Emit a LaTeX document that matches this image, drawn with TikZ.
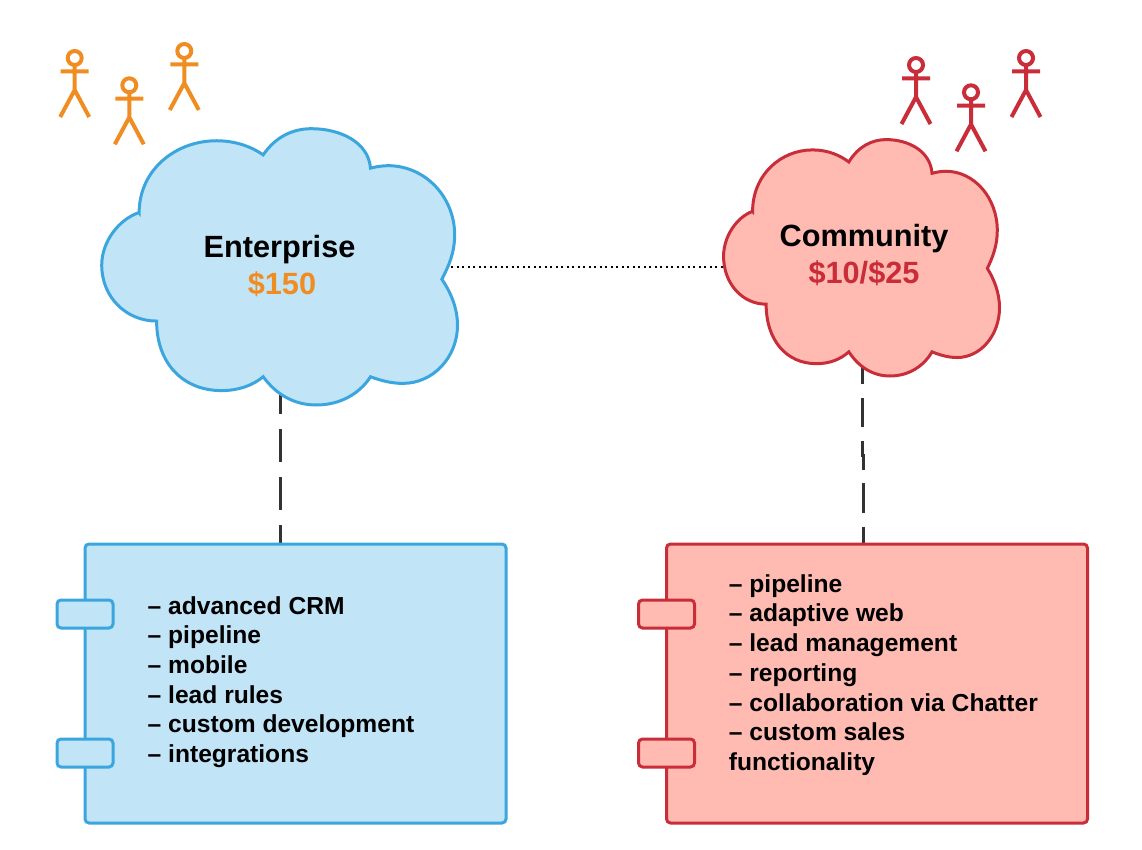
\documentclass[tikz,border=0pt]{standalone}
\usepackage{fontspec}
\setmainfont{Liberation Sans}
\usetikzlibrary{backgrounds}
\definecolor{SkyFill}{HTML}{C1E4F7}
\definecolor{SkyLine}{HTML}{3AA6DD}
\definecolor{RoseFill}{HTML}{FFBBB1}
\definecolor{RoseLine}{HTML}{C92D39}
\definecolor{Amber}{HTML}{EF8D22}
\definecolor{LineDark}{HTML}{333333}
% outline of a cloud in a unit box, y pointing down
\newcommand{\cloudoutline}{(.107,.306) .. controls (.107,.150) and (.210,.046) .. (.324,.046)
  .. controls (.38,.046) and (.425,.07) .. (.455,.097)
  .. controls (.49,.03) and (.54,.0025) .. (.590,.0025)
  .. controls (.67,.0025) and (.75,.05) .. (.756,.145)
  .. controls (.77,.14) and (.79,.136) .. (.805,.136)
  .. controls (.91,.136) and (.992,.25) .. (.992,.386)
  .. controls (.992,.45) and (.975,.50) .. (.956,.546)
  .. controls (.98,.59) and (1,.65) .. (1,.711)
  .. controls (1,.83) and (.93,.922) .. (.847,.922)
  .. controls (.815,.922) and (.785,.912) .. (.756,.898)
  .. controls (.725,.96) and (.67,1) .. (.604,1)
  .. controls (.54,1) and (.49,.96) .. (.455,.898)
  .. controls (.425,.93) and (.385,.948) .. (.338,.948)
  .. controls (.23,.948) and (.156,.85) .. (.156,.697)
  .. controls (.07,.697) and (.002,.61) .. (.002,.495)
  .. controls (.002,.41) and (.05,.33) .. cycle}
\begin{document}
\begin{tikzpicture}[
    x=1pt, y=-1pt,
    title/.style={align=center, inner sep=0pt, font=\fontsize{30.7}{37.5}\selectfont\bfseries},
    comp/.style={rounded corners=4pt, line width=3pt, minimum width=421pt, minimum height=279pt},
    port/.style={rounded corners=4pt, line width=3pt, minimum width=56pt, minimum height=28pt},
    items/.style={align=left, inner sep=0pt, anchor=west, font=\fontsize{24.6}{29.7}\selectfont\bfseries},
    sky/.style={draw=SkyLine, fill=SkyFill},
    rose/.style={draw=RoseLine, fill=RoseFill},
    dep/.style={draw=LineDark, line width=3pt},
    link/.style={draw=black, line width=2pt, dash pattern=on 2pt off 3.5pt},
    actor/.pic={
      \draw (0,-7) circle (7);
      \draw (0,0) -- (0,25) (-14,6.3) -- (14,6.3) (-14.5,52) -- (0,25) -- (14.5,52);
    }
]
\useasboundingbox (0,0) rectangle (1142,850);

% clouds
\draw[sky, line width=3pt, shift={(101,128)}, xscale=356.5, yscale=277] \cloudoutline;
\draw[rose, line width=3pt, shift={(723,139)}, xscale=276.5, yscale=237] \cloudoutline;
\node[minimum width=357pt, minimum height=277pt, inner sep=0pt] (enterprise) at (280.5,266.5) {};
\node[minimum width=277pt, minimum height=237pt, inner sep=0pt] (community) at (862,257.5) {};
\node[title] (enterprisetitle) at (279.5,266) {Enterprise\\\hspace*{5pt}{\color{Amber}\$150}};
\node[title] (communitytitle) at (864,255) {Community\\{\color{RoseLine}\$10/\$25}};

% actors
\foreach \x/\y in {74.7/65, 129.3/92.3, 184.3/58}{
  \pic[draw=Amber, line width=4pt] at (\x,\y) {actor};
}
\foreach \x/\y in {916/72, 971/99.3, 1026/65}{
  \pic[draw=RoseLine, line width=4pt] at (\x,\y) {actor};
}

% components
\node[comp, sky] (entbox) at (295.5,683.5) {};
\node[comp, rose] (combox) at (877,683.5) {};
\foreach \n/\y in {a/614, b/753}{
  \node[port, sky] (entport\n) at (85,\y) {};
  \node[port, rose] (comport\n) at (666.5,\y) {};
}
\node[items] (entitems) at (147.5,682) {-- advanced CRM\\-- pipeline\\-- mobile\\-- lead rules\\-- custom development\\-- integrations};
\node[items] (comitems) at (728.7,675) {-- pipeline\\-- adaptive web\\-- lead management\\-- reporting\\-- collaboration via Chatter\\-- custom sales\\functionality};

% connectors
\begin{scope}[on background layer]
\coordinate (comjogup) at (862,455);
\coordinate (comjogdown) at (863,455);
\draw[link] (enterprise.center) -- (enterprise.center -| community.center);
\draw[dep, dash pattern=on 32.7pt off 15.3pt, dash phase=29.5pt] (enterprise.center) -- (enterprise.center |- entbox.north);
\draw[dep, dash pattern=on 29.5pt off 13.8pt, dash phase=32.9pt] (community.center) -- (comjogup) -- (comjogdown) -- (comjogdown |- combox.north);
\end{scope}
\end{tikzpicture}
\end{document}
